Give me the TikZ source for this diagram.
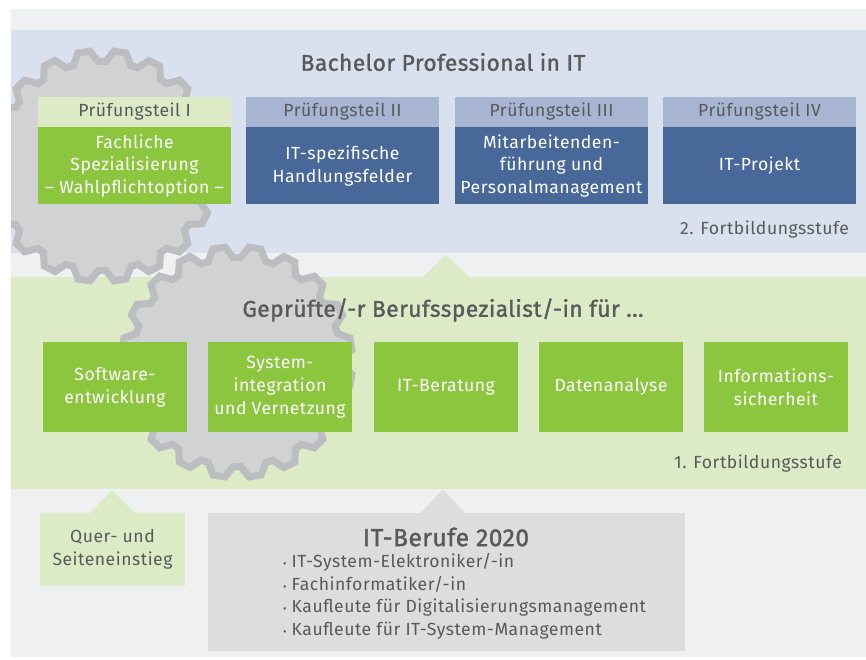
\documentclass[tikz,border=0pt]{standalone}
\usepackage{fontspec}
\setmainfont{Fira Sans}[LetterSpace=3]
\newfontfamily\titlefont{Fira Sans}[FakeBold=1.3, LetterSpace=2]
\usepackage{xcolor}
\usetikzlibrary{positioning}

\definecolor{outerbg}{HTML}{EFF0F2}
\definecolor{bandblue}{HTML}{DAE1EE}
\definecolor{bandgreen}{HTML}{DCEAC5}
\definecolor{boxgreen}{HTML}{8CC63F}
\definecolor{headblue}{HTML}{A7B5D2}
\definecolor{boxblue}{HTML}{476899}
\definecolor{gearfill}{HTML}{D1D2D4}
\definecolor{gearline}{HTML}{BCBDC0}
\definecolor{textgray}{HTML}{58595B}
\definecolor{berufgray}{HTML}{DCDDDF}

\tikzset{
	gear/.style = {fill=gearfill, draw=gearline, line width=6pt},
	thead/.style = {minimum width=5.79cm, minimum height=0.9cm, inner sep=0pt,
		text=textgray, font=\fontsize{15}{17}\selectfont},
	tbody/.style = {minimum width=5.79cm, minimum height=2.31cm, inner sep=0pt,
		text=white, align=center, font=\fontsize{15}{19.5}\selectfont},
	spec/.style = {fill=boxgreen, minimum width=4.32cm, minimum height=2.7cm, inner sep=0pt,
		text=white, align=center, font=\fontsize{15}{19.5}\selectfont},
	title/.style = {text=textgray, font=\fontsize{19.4}{23}\titlefont},
	stufe/.style = {text=textgray, anchor=east, font=\fontsize{15}{17}\selectfont}
}

\begin{document}
\begin{tikzpicture}[x=0.03cm, y=-0.03cm]
	\useasboundingbox (0,0) rectangle (866,659);
	% bands
	\fill[outerbg] (11,9) rectangle (866,657);
	\fill[bandblue] (11,30) rectangle (866,253);
	\fill[bandgreen] (11,277) rectangle (866,489);
	\fill[bandgreen] (423,277) -- (446,255) -- (469,277) -- cycle;
	\fill[bandgreen] (90,513) -- (112,490) -- (135,513) -- cycle;
	\fill[berufgray] (421,513) -- (443,489) -- (465,513) -- cycle;

	% gears
	\begin{scope}
		\clip (11,9) rectangle (866,657);
		\foreach \gx/\gy in {102/166, 237/362}{
			\filldraw[gear, shift={(\gx,\gy)}] (0:104.5)
				\foreach \a in {0,18,...,342}{
					-- (\a+2:104.5) -- (\a+6:115.5) -- (\a+12:115.5) -- (\a+16:104.5) -- (\a+18:104.5)
				} -- cycle;
		}
	\end{scope}

	% 2. Fortbildungsstufe
	\node[title] (bachelor) at (443,62) {Bachelor Professional in IT};
	\node[thead, fill=bandgreen] (teil1) at (134.5,112) {Prüfungsteil I};
	\node[thead, fill=headblue] (teil2) at (342.5,112) {Prüfungsteil II};
	\node[thead, fill=headblue] (teil3) at (551.5,112) {Prüfungsteil III};
	\node[thead, fill=headblue] (teil4) at (759.5,112) {Prüfungsteil IV};
	\node[tbody, fill=boxgreen, below=0pt of teil1] (fach) {Fachliche\\Spezialisierung\\– Wahlpflichtoption –};
	\node[tbody, fill=boxblue, below=0pt of teil2] (handlung) {IT-spezifische\\Handlungsfelder};
	\node[tbody, fill=boxblue, below=0pt of teil3] (personal) {Mitarbeitenden-\\führung und\\Personalmanagement};
	\node[tbody, fill=boxblue, below=0pt of teil4] (projekt) {IT-Projekt};
	\node[stufe] (stufe2) at (853,230) {2. Fortbildungsstufe};

	% 1. Fortbildungsstufe
	\node[title] (spezialist) at (443,310) {Geprüfte/-r Berufsspezialist/-in für ...};
	\node[spec] (software) at (115,387) {Software-\\entwicklung};
	\node[spec] (system) at (280,387) {System-\\integration\\und Vernetzung};
	\node[spec] (beratung) at (446,387) {IT-Beratung};
	\node[spec] (daten) at (611,387) {Datenanalyse};
	\node[spec] (sicherheit) at (776,387) {Informations-\\sicherheit};
	\node[stufe] (stufe1) at (846,464) {1. Fortbildungsstufe};

	% Einstieg
	\node[spec, fill=bandgreen, text=textgray, minimum width=4.35cm, minimum height=2.19cm] (quer) at (112.5,549.5) {Quer- und\\Seiteneinstieg};
	\node[fill=berufgray, minimum width=14.31cm, minimum height=4.14cm, inner sep=0pt] (berufe) at (446.5,582) {};
	\node[title, font=\fontsize{21}{24}\titlefont] (berufetitel) at (446,537) {IT-Berufe 2020};
	\node[text=textgray, anchor=west, align=left, font=\fontsize{15}{19.2}\selectfont] (berufeliste) at (279,596.5)
		{{\small\textbullet}\ IT-System-Elektroniker/-in\\
		 {\small\textbullet}\ Fachinformatiker/-in\\
		 {\small\textbullet}\ Kaufleute für Digitalisierungsmanagement\\
		 {\small\textbullet}\ Kaufleute für IT-System-Management};
\end{tikzpicture}
\end{document}
